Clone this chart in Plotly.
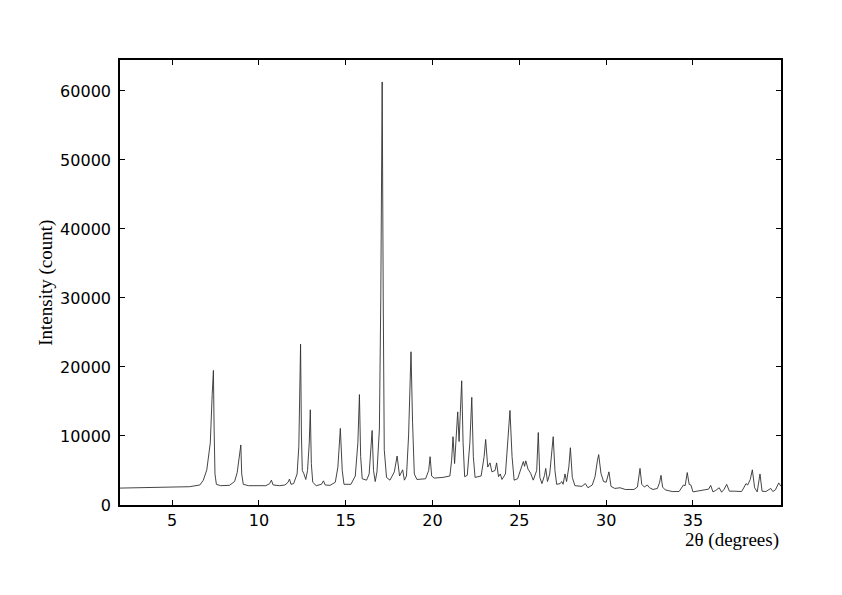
import plotly.graph_objects as go

# 2-theta positions (degrees) and intensities (counts)
two_theta = [
    2.0, 3.0, 4.0, 5.0, 6.0, 6.6, 6.8, 7.0, 7.2, 7.31, 7.38, 7.42, 7.47, 7.55, 7.8,
    8.3, 8.6, 8.75, 8.86, 8.96, 9.01, 9.1, 9.4,
    10.4, 10.62, 10.72, 10.82, 11.2, 11.5, 11.68, 11.76, 11.85,
    12.0, 12.2, 12.3, 12.36, 12.4, 12.45, 12.5, 12.58, 12.7, 12.8, 12.9, 12.96, 13.02, 13.1,
    13.3, 13.6, 13.72, 13.82, 14.1, 14.4, 14.55, 14.69, 14.8, 14.9,
    15.3, 15.55, 15.7, 15.79, 15.86, 15.95, 16.2, 16.35, 16.45, 16.52, 16.6, 16.7,
    16.8, 16.94, 17.02, 17.1, 17.16, 17.22, 17.35, 17.55, 17.8, 17.96, 18.1, 18.2,
    18.28, 18.38, 18.5, 18.62, 18.76, 18.85, 18.95, 19.1, 19.6, 19.78, 19.86, 19.95,
    20.1, 20.6, 21.0, 21.1, 21.18, 21.27, 21.38, 21.45, 21.53, 21.62, 21.68, 21.76,
    21.85, 22.0, 22.15, 22.26, 22.35, 22.45, 22.8, 22.97, 23.06, 23.18, 23.31, 23.42,
    23.6, 23.69, 23.8, 23.9, 24.0, 24.2, 24.35, 24.46, 24.58, 24.7, 24.9, 25.1,
    25.23, 25.3, 25.37, 25.5, 25.65, 25.8, 26.0, 26.09, 26.18, 26.3, 26.45, 26.52,
    26.62, 26.75, 26.82, 26.95, 27.05, 27.15, 27.35, 27.44, 27.52, 27.63, 27.72,
    27.85, 27.94, 28.05, 28.2, 28.6, 28.8, 28.95, 29.2, 29.36, 29.5, 29.57, 29.7,
    29.85, 30.0, 30.16, 30.28, 30.5, 30.8, 31.1, 31.6, 31.8, 31.95, 32.05, 32.2,
    32.37, 32.5, 32.7, 32.95, 33.07, 33.16, 33.25, 33.4, 33.8, 34.2, 34.45, 34.55,
    34.67, 34.78, 34.88, 35.0, 35.3, 35.7, 35.9, 36.02, 36.15, 36.3, 36.51, 36.65,
    36.8, 36.94, 37.1, 37.4, 37.8, 37.95, 38.05, 38.15, 38.3, 38.42, 38.55, 38.7,
    38.86, 38.98, 39.2, 39.48, 39.6, 39.75, 39.94, 40.07,
]
intensity = [
    2450, 2500, 2550, 2600, 2650, 2900, 3600, 5100, 9000, 16000, 19500, 11000, 4500, 3000, 2800,
    2850, 3400, 4700, 6500, 8700, 4500, 3000, 2800,
    2800, 3100, 3600, 2900, 2800, 2900, 3300, 3750, 3000,
    3100, 4500, 8500, 17000, 23300, 10000, 5000, 4600, 3700, 5000, 9000, 13800, 6000, 3300,
    2800, 3000, 3500, 2900, 2850, 3300, 5500, 11100, 5000, 3000,
    3000, 4200, 9000, 16000, 7000, 3800, 3600, 4500, 7500, 10800, 5000, 3400,
    4800, 11000, 30000, 61300, 30000, 8000, 4000, 3600, 4800, 7100, 4200, 4600,
    5100, 3600, 4200, 10000, 22200, 12000, 4500, 3700, 3800, 5000, 7000, 4200,
    3900, 4000, 4200, 6500, 9900, 6000, 10000, 13500, 9200, 14000, 18000, 9000,
    4100, 4300, 9000, 15600, 7000, 4000, 4200, 7000, 9500, 5500, 6100, 4800,
    5000, 6100, 4100, 4500, 3700, 4500, 10000, 13700, 7000, 3600, 3800, 5500,
    6300, 5600, 6400, 5200, 4600, 3600, 5000, 10500, 4000, 3100, 4300, 5300,
    3400, 4500, 6700, 9900, 5000, 3000, 3100, 3400, 3000, 4500, 3400,
    5500, 8300, 4000, 2800, 2700, 3100, 2500, 2900, 4100, 6500, 7300, 4600,
    3400, 3300, 4800, 2700, 2400, 2500, 2250, 2250, 2600, 5300, 3000, 2600,
    2900, 2500, 2250, 2400, 3200, 4300, 2600, 2200, 1950, 1950, 2900, 2800,
    4700, 3000, 2900, 1900, 2000, 2200, 2300, 2850, 1900, 2100, 2500, 1850,
    2300, 3000, 2000, 2000, 1950, 2600, 3100, 2900, 3700, 5100, 2500, 1900,
    4500, 2000, 1950, 2400, 1950, 2200, 3200, 2700,
]

x_ticks = [5, 10, 15, 20, 25, 30, 35]
y_ticks = [0, 10000, 20000, 30000, 40000, 50000, 60000]
y_tick_labels = ["0", "10000", "20000", "30000", "40000", "50000", "60000"]

fig = go.Figure()
fig.add_trace(go.Scatter(
    x=two_theta, y=intensity, mode="lines",
    line=dict(color="#303030", width=0.9),
    showlegend=False, hoverinfo="skip",
))

axis_common = dict(
    showline=True, linecolor="black", linewidth=1.6, mirror="ticks",
    ticks="inside", ticklen=5, tickwidth=1.4, tickcolor="black",
    showgrid=False, zeroline=False,
    tickfont=dict(family="DejaVu Sans", size=16, color="black"),
)

fig.update_layout(
    width=842, height=595,
    margin=dict(l=112, r=69, t=52, b=98),
    paper_bgcolor="white", plot_bgcolor="white",
    xaxis=dict(range=[2, 40.07], tickvals=x_ticks, ticklabelstandoff=0, **axis_common),
    yaxis=dict(range=[0, 64480], tickvals=y_ticks, ticktext=y_tick_labels,
               ticklabelstandoff=4, **axis_common),
    annotations=[
        dict(text="2θ (degrees)", xref="paper", yref="paper", x=1.0, y=-0.05,
             xanchor="right", yanchor="top", showarrow=False,
             font=dict(family="Liberation Serif", size=19, color="black")),
        dict(text="Intensity (count)", xref="paper", yref="paper", x=-0.113, y=0.5,
             xanchor="center", yanchor="middle", textangle=-90, showarrow=False,
             font=dict(family="Liberation Serif", size=19, color="black")),
    ],
)

fig.write_html("out.html")
